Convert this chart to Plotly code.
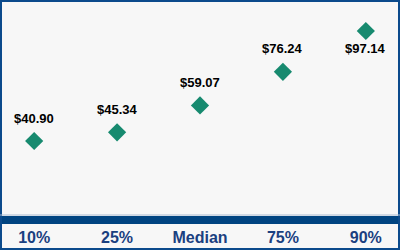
import plotly.graph_objects as go

categories = ["10%", "25%", "Median", "75%", "90%"]
values = [40.90, 45.34, 59.07, 76.24, 97.14]
labels = ["$40.90", "$45.34", "$59.07", "$76.24", "$97.14"]
label_below = [False, False, False, False, True]

W, H = 400, 250
ml, mr, mt, mb = 1, 1, 2, 34
ph = H - mt - mb

fig = go.Figure()
fig.add_trace(go.Scatter(
    x=list(range(len(categories))), y=values, mode="markers",
    marker=dict(symbol="diamond", size=14, color="#178a6f"),
    hoverinfo="skip", showlegend=False,
))

for i, (v, t, b) in enumerate(zip(values, labels, label_below)):
    fig.add_annotation(
        x=i, y=v, text=t, showarrow=False,
        yshift=-18 if b else 23,
        font=dict(family="Liberation Sans, Arial", size=13, color="#000000", weight="bold"),
    )

# border rectangle around the whole figure
fig.add_shape(type="rect", xref="paper", yref="paper",
              x0=0, x1=1, y0=(216 - 249) / ph, y1=(216 - 1) / ph,
              line=dict(color="#0b4a8c", width=2), fillcolor="rgba(0,0,0,0)", layer="above")
# thin light line above band
fig.add_shape(type="line", xref="paper", yref="paper",
              x0=-1 / 398, x1=1 + 1 / 398, y0=1 / ph, y1=1 / ph,
              line=dict(color="#a8bad0", width=1), layer="above")

fig.update_layout(
    width=W, height=H,
    margin=dict(l=ml, r=mr, t=mt, b=mb, pad=0),
    paper_bgcolor="#f7f7f7", plot_bgcolor="#f7f7f7",
    xaxis=dict(
        range=[-0.4, 4.4], tickmode="array",
        tickvals=list(range(len(categories))), ticktext=categories,
        showgrid=False, zeroline=False, showline=True,
        linecolor="#004481", linewidth=8, ticks="",
        tickfont=dict(family="Liberation Sans, Arial", size=16, color="#1a4080", weight="bold"),
        fixedrange=True,
    ),
    yaxis=dict(
        range=[2.56, 111.96], showgrid=False, zeroline=False,
        showticklabels=False, showline=False, fixedrange=True,
    ),
)

fig.write_html("out.html")
